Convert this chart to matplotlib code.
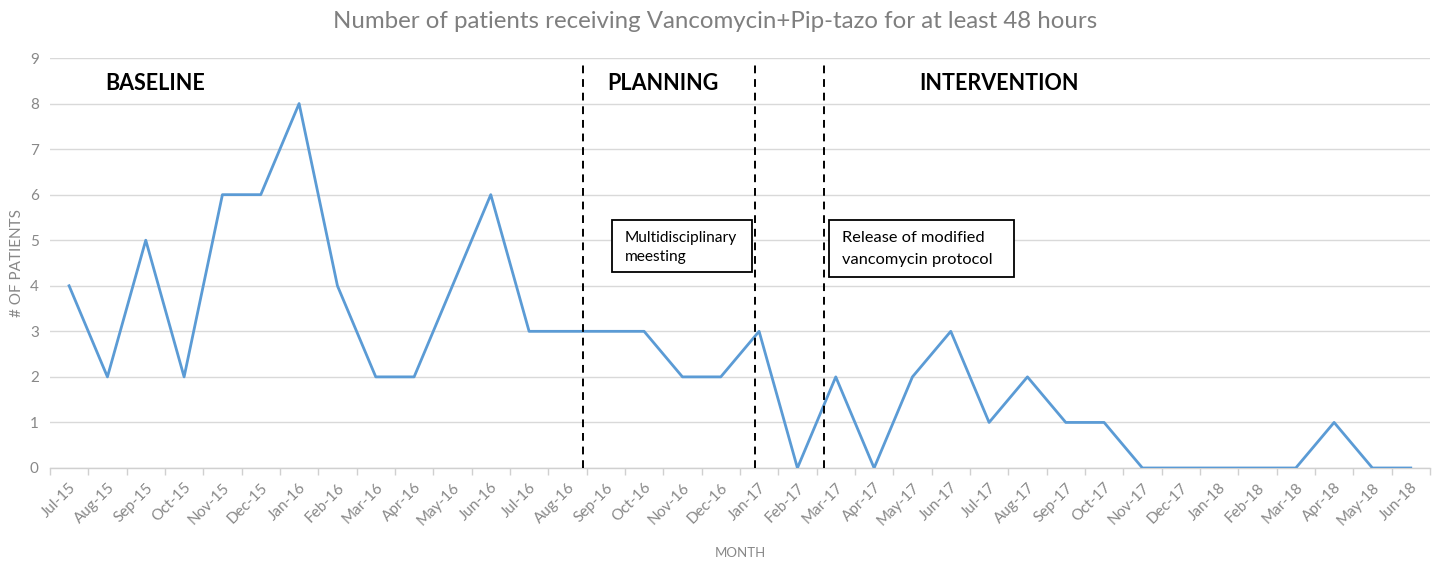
import matplotlib
matplotlib.use("Agg")
import matplotlib.pyplot as plt
from matplotlib.patches import Rectangle

months = ["Jul-15","Aug-15","Sep-15","Oct-15","Nov-15","Dec-15","Jan-16","Feb-16","Mar-16","Apr-16",
          "May-16","Jun-16","Jul-16","Aug-16","Sep-16","Oct-16","Nov-16","Dec-16","Jan-17","Feb-17",
          "Mar-17","Apr-17","May-17","Jun-17","Jul-17","Aug-17","Sep-17","Oct-17","Nov-17","Dec-17",
          "Jan-18","Feb-18","Mar-18","Apr-18","May-18","Jun-18"]
patients = [4,2,5,2,6,6,8,4,2,2,4,6,3,3,3,3,2,2,3,0,2,0,2,3,1,2,1,1,0,0,0,0,0,1,0,0]
yticks = list(range(0, 10))

plt.rcParams['font.family'] = ['Lato', 'DejaVu Sans']
fig = plt.figure(figsize=(14.39, 5.61), dpi=100)
ax = fig.add_axes([0.0347, 0.1658, 0.9590, 0.7308])

x = list(range(len(months)))
ax.plot(x, patients, color="#5B9BD5", lw=2, zorder=3)

ax.set_xlim(-0.5, len(months) - 0.5)
ax.set_ylim(0, 9)
ax.set_yticks(yticks)
ax.set_xticks(x)
ax.set_xticklabels(months, rotation=45, ha="right", rotation_mode="anchor", color="#888888", fontsize=11)
ax.set_xticks([i - 0.5 for i in range(len(months) + 1)], minor=True)
ax.tick_params(axis="x", which="major", length=0, pad=9)
ax.tick_params(axis="x", which="minor", length=5, color="#d0d0d0", width=1)
ax.tick_params(axis="y", length=0, labelcolor="#888888", labelsize=11, pad=8)
ax.grid(axis="y", color="#d9d9d9", lw=1, zorder=0)
for s in ["top", "right", "left"]:
    ax.spines[s].set_visible(False)
ax.spines["bottom"].set_color("#d0d0d0")
ax.spines["bottom"].set_linewidth(1)

ax.set_ylabel("# OF PATIENTS", color="#888888", fontsize=11, labelpad=4)
ax.set_xlabel("MONTH", color="#888888", fontsize=9.5, labelpad=14)

fig.text(0.497, 0.962, "Number of patients receiving Vancomycin+Pip-tazo for at least 48 hours",
         ha="center", va="center", color="#7f7f7f", fontsize=17.3)

# phase dividers
for xv in [13.4, 17.9, 19.7]:
    ax.plot([xv, xv], [0, 8.85], color="black", ls=(0, (4, 3)), lw=1.4, zorder=4)

ax.text(2.25, 8.45, "BASELINE", fontsize=15.5, fontweight="bold", ha="center", va="center")
ax.text(15.5, 8.45, "PLANNING", fontsize=15.5, fontweight="bold", ha="center", va="center")
ax.text(24.25, 8.45, "INTERVENTION", fontsize=15.5, fontweight="bold", ha="center", va="center")

ax.add_patch(Rectangle((14.16, 4.30), 3.65, 1.14, fill=True, facecolor="white",
                       edgecolor="black", lw=1.3, zorder=5))
ax.text(14.5, 4.84, "Multidisciplinary\nmeesting", fontsize=11.2, va="center", ha="left",
        zorder=6, linespacing=1.45)
ax.add_patch(Rectangle((19.82, 4.19), 4.83, 1.25, fill=True, facecolor="white",
                       edgecolor="black", lw=1.3, zorder=5))
ax.text(20.15, 4.8, "Release of modified\nvancomycin protocol", fontsize=11.8, va="center", ha="left",
        zorder=6, linespacing=1.75)

fig.savefig("out.png", dpi=100)
